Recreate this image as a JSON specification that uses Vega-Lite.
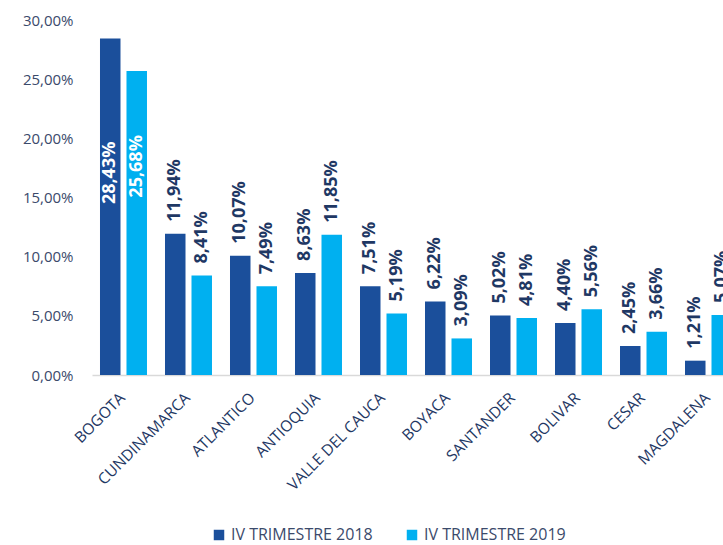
{
  "$schema": "https://vega.github.io/schema/vega-lite/v6.json",
  "width": 648,
  "height": 355,
  "autosize": {"type": "none"},
  "padding": {"left": 92, "top": 20, "right": 0, "bottom": 170},
  "config": {
    "locale": {"number": {"decimal": ",", "thousands": ".", "grouping": [3], "currency": ["", " €"]}},
    "view": {"stroke": null},
    "font": "Open Sans",
    "background": "white"
  },
  "data": {
    "values": [
      {"dep": "BOGOTA", "periodo": "IV TRIMESTRE 2018", "valor": 0.2843},
      {"dep": "BOGOTA", "periodo": "IV TRIMESTRE 2019", "valor": 0.2568},
      {"dep": "CUNDINAMARCA", "periodo": "IV TRIMESTRE 2018", "valor": 0.1194},
      {"dep": "CUNDINAMARCA", "periodo": "IV TRIMESTRE 2019", "valor": 0.0841},
      {"dep": "ATLANTICO", "periodo": "IV TRIMESTRE 2018", "valor": 0.1007},
      {"dep": "ATLANTICO", "periodo": "IV TRIMESTRE 2019", "valor": 0.0749},
      {"dep": "ANTIOQUIA", "periodo": "IV TRIMESTRE 2018", "valor": 0.0863},
      {"dep": "ANTIOQUIA", "periodo": "IV TRIMESTRE 2019", "valor": 0.1185},
      {"dep": "VALLE DEL CAUCA", "periodo": "IV TRIMESTRE 2018", "valor": 0.0751},
      {"dep": "VALLE DEL CAUCA", "periodo": "IV TRIMESTRE 2019", "valor": 0.0519},
      {"dep": "BOYACA", "periodo": "IV TRIMESTRE 2018", "valor": 0.0622},
      {"dep": "BOYACA", "periodo": "IV TRIMESTRE 2019", "valor": 0.0309},
      {"dep": "SANTANDER", "periodo": "IV TRIMESTRE 2018", "valor": 0.0502},
      {"dep": "SANTANDER", "periodo": "IV TRIMESTRE 2019", "valor": 0.0481},
      {"dep": "BOLIVAR", "periodo": "IV TRIMESTRE 2018", "valor": 0.0440},
      {"dep": "BOLIVAR", "periodo": "IV TRIMESTRE 2019", "valor": 0.0556},
      {"dep": "CESAR", "periodo": "IV TRIMESTRE 2018", "valor": 0.0245},
      {"dep": "CESAR", "periodo": "IV TRIMESTRE 2019", "valor": 0.0366},
      {"dep": "MAGDALENA", "periodo": "IV TRIMESTRE 2018", "valor": 0.0121},
      {"dep": "MAGDALENA", "periodo": "IV TRIMESTRE 2019", "valor": 0.0507}
    ]
  },
  "encoding": {
    "x": {
      "field": "dep", "type": "nominal", "sort": null,
      "scale": {"paddingInner": 0.277, "paddingOuter": 0.123},
      "axis": {
        "title": null, "labelAngle": -45, "labelAlign": "right", "labelBaseline": "middle",
        "labelFontSize": 15.5, "labelColor": "#1F3864", "labelPadding": 20, "labelOffset": -1,
        "ticks": false, "domainColor": "#D9D9D9", "domainWidth": 1.5
      }
    },
    "xOffset": {"field": "periodo", "type": "nominal", "scale": {"paddingInner": 0.226}},
    "y": {
      "field": "valor", "type": "quantitative",
      "scale": {"domain": [0, 0.3], "nice": false},
      "axis": {
        "title": null, "format": ".2%", "values": [0, 0.05, 0.1, 0.15, 0.2, 0.25, 0.3],
        "grid": false, "domain": false, "ticks": false, "tickSize": 0,
        "labelPadding": 19, "labelFontSize": 15, "labelColor": "#3B4A6B"
      }
    }
  },
  "layer": [
    {
      "mark": {"type": "bar"},
      "encoding": {
        "color": {
          "field": "periodo", "type": "nominal",
          "scale": {"domain": ["IV TRIMESTRE 2018", "IV TRIMESTRE 2019"], "range": ["#1B4F9B", "#00B0F0"]},
          "legend": {
            "title": null, "orient": "none", "direction": "horizontal",
            "legendX": 119, "legendY": 507, "symbolType": "square", "symbolSize": 110,
            "symbolStrokeWidth": 0, "labelFontSize": 16, "labelColor": "#3B4A6B",
            "columnPadding": 31, "padding": 0, "symbolOpacity": 1
          }
        }
      }
    },
    {
      "transform": [{"filter": "datum.dep != 'BOGOTA'"}],
      "mark": {"type": "text", "angle": 270, "align": "left", "baseline": "middle", "dx": 12, "fontSize": 18, "fontWeight": "bold", "color": "#1F3864"},
      "encoding": {"text": {"field": "valor", "type": "quantitative", "format": ".2%"}}
    },
    {
      "transform": [{"filter": "datum.dep == 'BOGOTA' && datum.periodo == 'IV TRIMESTRE 2018'"}],
      "mark": {"type": "text", "angle": 270, "align": "right", "baseline": "middle", "dx": -103, "fontSize": 18, "fontWeight": "bold", "color": "white"},
      "encoding": {"text": {"field": "valor", "type": "quantitative", "format": ".2%"}}
    },
    {
      "transform": [{"filter": "datum.dep == 'BOGOTA' && datum.periodo == 'IV TRIMESTRE 2019'"}],
      "mark": {"type": "text", "angle": 270, "align": "right", "baseline": "middle", "dx": -64, "fontSize": 18, "fontWeight": "bold", "color": "white"},
      "encoding": {"text": {"field": "valor", "type": "quantitative", "format": ".2%"}}
    }
  ]
}
